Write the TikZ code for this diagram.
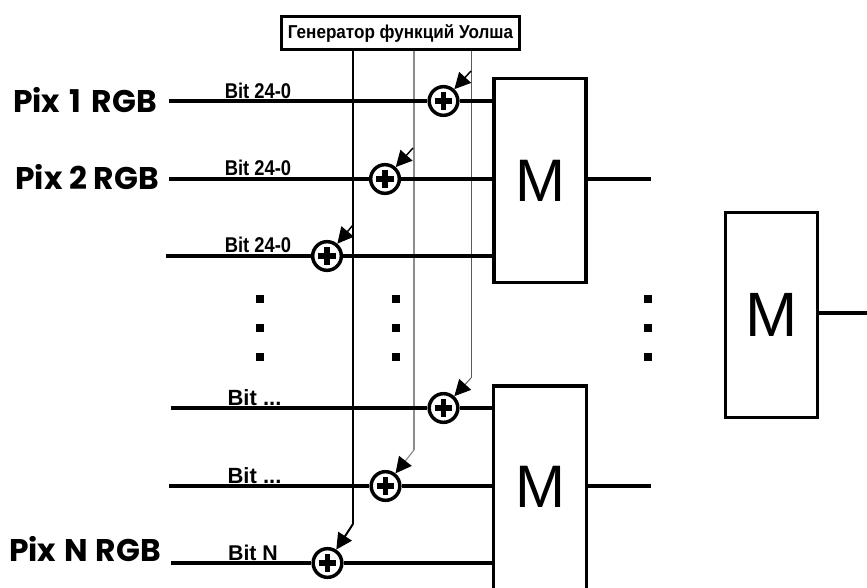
\documentclass[tikz,border=0pt]{standalone}
\usepackage{fontspec}
\setmainfont{Liberation Sans}
\newfontfamily\pixfont{Poppins}
\usetikzlibrary{arrows.meta}
\tikzset{
  x=0.75pt,y=-0.75pt,
  sigline/.style={line width=2.3pt,line cap=butt},
  boxline/.style={line width=2.3pt,line join=miter},
  wirea/.style={line width=1.5pt,black},
  wireb/.style={line width=0.9pt,black!45},
  wirec/.style={line width=0.7pt,black!65},
  tip/.style={-{Triangle[length=12pt,width=12pt,color=black]}},
  stub/.style={line width=1.1pt,black,tip},
  sumnode/.style={circle,draw,line width=2.6pt,fill=white,minimum size=21.5pt,inner sep=0pt,
    path picture={
      \draw[line width=4pt,black] (path picture bounding box.center) ++(-6.6pt,0) -- ++(13.2pt,0);
      \draw[line width=4pt,black] (path picture bounding box.center) ++(0,-6.6pt) -- ++(0,13.2pt);
    }},
  mbox/.style={minimum width=69pt,inner sep=0pt,font=\fontsize{45pt}{45pt}\selectfont},
  pixlabel/.style={inner sep=0pt,font=\pixfont\bfseries\fontsize{23.5pt}{23.5pt}\selectfont},
  bitlabel/.style={inner sep=0pt,font=\bfseries\fontsize{16pt}{16pt}\selectfont},
  dotmark/.style={fill=black,inner sep=0pt,minimum size=6pt},
}
\begin{document}
\begin{tikzpicture}
\useasboundingbox (0,0) rectangle (867,588);
% generator
\node[draw,boxline,minimum width=179pt,minimum height=25pt,inner sep=0pt,
  font=\bfseries\fontsize{14pt}{14pt}\selectfont] (gen) at (400.5,33) {\scalebox{0.915}[1]{Генератор функций Уолша}};
% M boxes
\node[draw,boxline,mbox,minimum height=153.5pt] (m1) at (540,180.5) {M};
\node[mbox,minimum height=151.5pt,anchor=north] (m2) at (540,386) {};
\node[mbox] (m2t) at (540,486.5) {M};
\node[draw,boxline,mbox,minimum height=153.5pt,font=\fontsize{47pt}{47pt}\selectfont] (m3) at (771.5,315) {M};
\draw[boxline] (m2.south west) -- (m2.north west) -- (m2.north east) -- (m2.south east);
% summing nodes
\node[sumnode] (c1) at (443.5,101) {};
\node[sumnode] (c2) at (385,179) {};
\node[sumnode] (c3) at (327,256) {};
\node[sumnode] (c4) at (443.5,408) {};
\node[sumnode] (c5) at (385.5,486) {};
\node[sumnode] (c6) at (327.5,563) {};
% free ends
\coordinate (a1) at (169,101);
\coordinate (a2) at (169,179);
\coordinate (a3) at (166,256);
\coordinate (a4) at (171,408);
\coordinate (a5) at (169,486);
\coordinate (a6) at (171,563);
\coordinate (o1) at (651,179);
\coordinate (o2) at (651,486);
\coordinate (o3) at (867,313);
\coordinate (ka) at (353,524);
\coordinate (kb) at (414,450);
\coordinate (kc) at (471,378);
\coordinate (s1) at (471,71);
\coordinate (s2) at (413,148);
\coordinate (s3) at (353,225);
% vertical wires
\draw[wirea] (gen.south -| ka) -- (ka);
\draw[wireb] (gen.south -| kb) -- (kb);
\draw[wirec] (gen.south -| kc) -- (kc);
% horizontal signals
\draw[sigline] (a1) -- (c1);
\draw[sigline] (c1) -- (m1.west |- c1);
\draw[sigline] (a2) -- (c2);
\draw[sigline] (c2) -- (m1.west |- c2);
\draw[sigline] (a3) -- (c3);
\draw[sigline] (c3) -- (m1.west |- c3);
\draw[sigline] (a4) -- (c4);
\draw[sigline] (c4) -- (m2.west |- c4);
\draw[sigline] (a5) -- (c5);
\draw[sigline] (c5) -- (m2.west |- c5);
\draw[sigline] (a6) -- (c6);
\draw[sigline] (c6) -- (m2.west |- c6);
\draw[sigline] (m1.east |- o1) -- (o1);
\draw[sigline] (m2.east |- o2) -- (o2);
\draw[sigline] (m3.east |- o3) -- (o3);
% arrows into summing nodes
\draw[stub] (s1) -- (c1);
\draw[stub] (s2) -- (c2);
\draw[stub] (s3) -- (c3);
\draw[wirea,tip] (ka) -- (c6);
\draw[wireb,tip] (kb) -- (c5);
\draw[wirec,tip] (kc) -- (c4);
% labels
\node[pixlabel] (p1) at (85,100) {Pix\hspace{2pt} 1\hspace{3pt} RGB};
\node[pixlabel] (p2) at (87,177.5) {Pix\hspace{0pt} 2\hspace{0pt} RGB};
\node[pixlabel] (pn) at (85,549) {Pix\hspace{1pt} N\hspace{1pt} RGB};
\node[bitlabel] (b1) at (258,91) {\scalebox{0.86}[1]{Bit 24-0}};
\node[bitlabel] (b2) at (258,168) {\scalebox{0.86}[1]{Bit 24-0}};
\node[bitlabel] (b3) at (258,245) {\scalebox{0.86}[1]{Bit 24-0}};
\node[bitlabel] (b4) at (254.5,398) {\fontsize{16.5pt}{16.5pt}\selectfont Bit ...};
\node[bitlabel] (b5) at (254.5,476) {\fontsize{16.5pt}{16.5pt}\selectfont Bit ...};
\node[bitlabel] (b6) at (253,553) {Bit N};
% ellipsis dots
\foreach \xx/\nm in {260/l,395.5/m,648/r}{
  \node[dotmark] (d\nm1) at (\xx,299) {};
  \node[dotmark] (d\nm2) at (\xx,328) {};
  \node[dotmark] (d\nm3) at (\xx,357) {};
}
\end{tikzpicture}
\end{document}
